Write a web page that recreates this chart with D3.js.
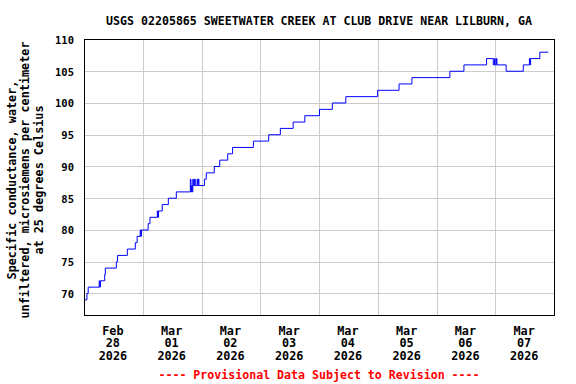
<!DOCTYPE html>
<html><head><meta charset="utf-8">
<script src="https://cdn.jsdelivr.net/npm/d3@7"></script>
<style>
body{margin:0;background:#fff}
svg{display:block}
text{font-family:"DejaVu Sans Mono","Liberation Mono",monospace;font-weight:bold}
</style>
</head><body>
<svg id="chart" width="576" height="384"></svg>
<script>
// ---- data ----
const title = "USGS 02205865 SWEETWATER CREEK AT CLUB DRIVE NEAR LILBURN, GA";
const yLabelLines = ["Specific conductance, water,", "unfiltered, microsiemens per centimeter", "at 25 degrees Celsius"];
const footer = "---- Provisional Data Subject to Revision ----";
const yTicks = [70, 75, 80, 85, 90, 95, 100, 105, 110];
const dayStarts = ["2026-02-28 00:00","2026-03-01 00:00","2026-03-02 00:00","2026-03-03 00:00","2026-03-04 00:00","2026-03-05 00:00","2026-03-06 00:00","2026-03-07 00:00","2026-03-08 00:00"];
const dayLabelMonth = ["Feb","Mar","Mar","Mar","Mar","Mar","Mar","Mar"];
const dayLabelDay = ["28","01","02","03","04","05","06","07"];
const dayLabelYear = ["2026","2026","2026","2026","2026","2026","2026","2026"];
const times = [
 "2026-02-28 00:00","2026-02-28 01:00","2026-02-28 01:30","2026-02-28 06:00","2026-02-28 06:15","2026-02-28 06:30",
 "2026-02-28 08:15","2026-02-28 08:30","2026-02-28 13:00","2026-02-28 13:30","2026-02-28 17:30","2026-02-28 20:45",
 "2026-02-28 21:30","2026-02-28 22:45","2026-02-28 23:00","2026-02-28 23:15",
 "2026-03-01 02:00","2026-03-01 02:45","2026-03-01 05:45","2026-03-01 06:00","2026-03-01 06:15","2026-03-01 07:45",
 "2026-03-01 10:15","2026-03-01 13:30",
 "2026-03-01 19:15","2026-03-01 19:30","2026-03-01 19:45","2026-03-01 20:00","2026-03-01 20:15","2026-03-01 20:30",
 "2026-03-01 21:00","2026-03-01 21:15","2026-03-01 22:00","2026-03-01 22:15","2026-03-01 22:30","2026-03-01 22:45",
 "2026-03-02 01:00","2026-03-02 01:45","2026-03-02 05:00","2026-03-02 07:15","2026-03-02 10:30","2026-03-02 12:30",
 "2026-03-02 21:00","2026-03-03 03:15","2026-03-03 08:00","2026-03-03 13:15","2026-03-03 18:00",
 "2026-03-04 00:00","2026-03-04 05:15","2026-03-04 10:45","2026-03-04 23:45",
 "2026-03-05 08:30","2026-03-05 13:45","2026-03-06 05:15","2026-03-06 11:00","2026-03-06 20:15",
 "2026-03-06 23:00","2026-03-06 23:30","2026-03-06 23:45","2026-03-07 00:15","2026-03-07 00:30",
 "2026-03-07 04:15","2026-03-07 11:15","2026-03-07 13:45","2026-03-07 14:00","2026-03-07 14:15",
 "2026-03-07 18:00","2026-03-07 21:30"
];
const values = [
 69, 70, 71, 72, 71, 72,
 73, 74, 75, 76, 77, 78,
 79, 80, 79, 80,
 81, 82, 83, 82, 83, 84,
 85, 86,
 88, 86, 87, 86, 88, 87,
 88, 87, 88, 87, 88, 87,
 88, 89, 90, 91, 92, 93,
 94, 95, 96, 97, 98,
 99, 100, 101, 102,
 103, 104, 105, 106, 107,
 106, 107, 106, 107, 106,
 105, 106, 107, 106, 107,
 108, 108
];

// ---- chart ----
const svg = d3.select("#chart");
const parse = d3.timeParse("%Y-%m-%d %H:%M");
const data = times.map((t, i) => ({t: parse(t), v: values[i]}));
const days = dayStarts.map(parse);

const pL = 84.5, pR = 554.5, pT = 39.5, pB = 315.5;
const x = d3.scaleTime().domain([days[0], days[days.length - 1]]).range([pL, pR]);
const y = d3.scaleLinear().domain([66.535, 110]).range([pB, pT]);

// grid
svg.append("g").selectAll("line").data(yTicks.filter(v => v < 110)).join("line")
  .attr("x1", pL).attr("x2", pR)
  .attr("y1", d => Math.round(y(d)) + 0.5).attr("y2", d => Math.round(y(d)) + 0.5)
  .attr("stroke", "#cccccc").attr("stroke-width", 1);
svg.append("g").selectAll("line").data(days.slice(1, -1)).join("line")
  .attr("y1", pT).attr("y2", pB)
  .attr("x1", d => Math.floor(x(d)) + 0.5).attr("x2", d => Math.floor(x(d)) + 0.5)
  .attr("stroke", "#cccccc").attr("stroke-width", 1);

// data line
const line = d3.line().x(d => x(d.t)).y(d => y(d.v)).curve(d3.curveStepAfter);
svg.append("path").datum(data).attr("d", line)
  .attr("fill", "none").attr("stroke", "#0000ff").attr("stroke-width", 1);

// frame
svg.append("rect").attr("x", pL).attr("y", pT)
  .attr("width", pR - pL).attr("height", pB - pT)
  .attr("fill", "none").attr("stroke", "#000").attr("stroke-width", 1);

// y tick labels
svg.append("g").selectAll("text").data(yTicks).join("text")
  .attr("x", 74).attr("y", d => y(d) + 4.5)
  .attr("text-anchor", "end").attr("font-size", 10.5).text(d => d);

// x labels
const dayLabels = dayLabelMonth.map((m, i) => [m, dayLabelDay[i], dayLabelYear[i]]);
const xl = svg.append("g").selectAll("text").data(dayLabels).join("text")
  .attr("text-anchor", "middle").attr("font-size", 11.8)
  .attr("transform", (d, i) => `translate(${x(new Date((+days[i] + +days[i + 1]) / 2)) - 1},0)`);
xl.selectAll("tspan").data(d => d).join("tspan")
  .attr("x", 0).attr("y", (d, j) => 334.5 + j * 12.8).text(d => d);

// title
svg.append("text").attr("x", 319).attr("y", 24.5).attr("text-anchor", "middle")
  .attr("font-size", 11.6).text(title);

// footer
svg.append("text").attr("x", 319).attr("y", 379).attr("text-anchor", "middle")
  .attr("font-size", 11.6).attr("fill", "#ff0000").text(footer);

// y axis label
const yl = svg.append("text").attr("transform", "translate(0,180) rotate(-90)")
  .attr("text-anchor", "middle").attr("font-size", 11.8);
yLabelLines.forEach((s, i) => {
  yl.append("tspan").attr("x", 0).attr("y", 15.5 + i * 13.5).text(s);
});
</script>
</body></html>
